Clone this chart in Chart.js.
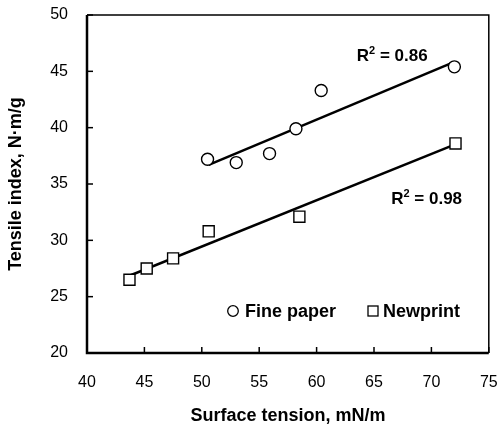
<!DOCTYPE html>
<html lang="en">
<head>
    <meta charset="UTF-8">
    <title>Tensile index vs surface tension</title>
    <script src="https://cdn.jsdelivr.net/npm/chart.js"></script>
    <style>
        html, body { margin: 0; padding: 0; background: #fff; }
        #wrap { width: 498px; height: 433px; }
    </style>
</head>
<body>
    <div id="wrap"><canvas id="tensileChart" width="498" height="433"></canvas></div>
    <script>
        // Dados
        const fineX = [50.5, 53.0, 55.9, 58.2, 60.4, 72.0];
        const fineY = [37.2, 36.9, 37.7, 39.9, 43.3, 45.4];
        const newsX = [43.7, 45.2, 47.5, 50.6, 58.5, 72.1];
        const newsY = [26.5, 27.5, 28.4, 30.8, 32.1, 38.6];

        // Linhas de tendência (extremos)
        const fineTrendX = [50.6, 71.9];
        const fineTrendY = [36.7, 45.8];
        const newsTrendX = [43.8, 71.8];
        const newsTrendY = [26.9, 38.4];

        const xTicks = [40, 45, 50, 55, 60, 65, 70, 75];
        const yTicks = [20, 25, 30, 35, 40, 45, 50];

        const labels = ["Fine paper", "Newprint"];
        const r2Labels = ["0.86", "0.98"];

        const toPoints = (xs, ys) => xs.map((x, i) => ({ x: x, y: ys[i] }));
        const FONT = "'Liberation Sans', Arial, sans-serif";

        // Moldura, ticks para dentro, legenda e R²
        const extras = {
            id: "extras",
            afterDraw(chart) {
                const ctx = chart.ctx;
                const a = chart.chartArea;
                const xs = chart.scales.x, ys = chart.scales.y;
                ctx.save();
                ctx.strokeStyle = "#000";
                ctx.lineWidth = 1.5;
                ctx.beginPath();
                ctx.moveTo(a.left, a.top); ctx.lineTo(a.right, a.top); ctx.lineTo(a.right, a.bottom);
                ctx.stroke();
                ctx.lineWidth = 2.5;
                ctx.beginPath();
                ctx.moveTo(a.left, a.top); ctx.lineTo(a.left, a.bottom); ctx.lineTo(a.right, a.bottom);
                ctx.stroke();
                ctx.lineWidth = 1.5;
                xTicks.forEach(v => {
                    const px = xs.getPixelForValue(v);
                    ctx.beginPath(); ctx.moveTo(px, a.bottom); ctx.lineTo(px, a.bottom - 6); ctx.stroke();
                });
                yTicks.forEach(v => {
                    const py = ys.getPixelForValue(v);
                    ctx.beginPath(); ctx.moveTo(a.left, py); ctx.lineTo(a.left + 6, py); ctx.stroke();
                });

                // legenda
                ctx.fillStyle = "#000";
                ctx.font = "bold 18px " + FONT;
                ctx.textBaseline = "middle";
                ctx.textAlign = "left";
                const ly = a.top + 296;
                ctx.lineWidth = 1.3;
                ctx.beginPath(); ctx.arc(a.left + 146, ly, 5.3, 0, Math.PI * 2); ctx.stroke();
                ctx.fillText(labels[0], a.left + 158, ly + 1);
                ctx.strokeRect(a.left + 281, ly - 5, 10, 10);
                ctx.fillText(labels[1], a.left + 296, ly + 1);

                // R²
                const r2 = (txt, vx, vy) => {
                    let px = xs.getPixelForValue(vx);
                    const py = ys.getPixelForValue(vy);
                    ctx.font = "bold 17px " + FONT;
                    ctx.fillText("R", px, py);
                    px += ctx.measureText("R").width;
                    ctx.font = "bold 11px " + FONT;
                    ctx.fillText("2", px, py - 5);
                    px += ctx.measureText("2").width;
                    ctx.font = "bold 17px " + FONT;
                    ctx.fillText(" = " + txt, px, py);
                };
                r2(r2Labels[0], 63.5, 46.35);
                r2(r2Labels[1], 66.5, 33.66);
                ctx.restore();
            }
        };

        const ctx = document.getElementById("tensileChart").getContext("2d");
        new Chart(ctx, {
            type: "scatter",
            data: {
                datasets: [
                    {
                        label: labels[0],
                        data: toPoints(fineX, fineY),
                        pointStyle: "circle",
                        pointRadius: 6,
                        borderColor: "#000",
                        backgroundColor: "#fff",
                        borderWidth: 1.4
                    },
                    {
                        label: labels[1],
                        data: toPoints(newsX, newsY),
                        pointStyle: "rect",
                        pointRadius: 7.8,
                        borderColor: "#000",
                        backgroundColor: "#fff",
                        borderWidth: 1.4
                    },
                    {
                        data: toPoints(fineTrendX, fineTrendY),
                        showLine: true,
                        pointRadius: 0,
                        borderColor: "#000",
                        borderWidth: 2.5,
                        order: 5
                    },
                    {
                        data: toPoints(newsTrendX, newsTrendY),
                        showLine: true,
                        pointRadius: 0,
                        borderColor: "#000",
                        borderWidth: 2.5,
                        order: 5
                    }
                ]
            },
            options: {
                responsive: false,
                animation: false,
                layout: { padding: { top: 15, right: 7, left: 0, bottom: 0 } },
                plugins: { legend: { display: false }, tooltip: { enabled: false } },
                scales: {
                    x: {
                        type: "linear",
                        min: 40, max: 75,
                        afterBuildTicks: s => { s.ticks = xTicks.map(v => ({ value: v })); },
                        afterFit: s => { s.height = 80; s.paddingLeft = 0; s.paddingRight = 0; },
                        grid: { display: false, drawTicks: false },
                        border: { display: false },
                        ticks: { color: "#000", font: { family: FONT, size: 16 }, padding: 20, maxRotation: 0 },
                        title: {
                            display: true,
                            text: "Surface tension, mN/m",
                            color: "#000",
                            font: { family: FONT, size: 18, weight: "bold" },
                            padding: { bottom: 6, top: 0 }
                        }
                    },
                    y: {
                        type: "linear",
                        min: 20, max: 50,
                        afterBuildTicks: s => { s.ticks = yTicks.map(v => ({ value: v })); },
                        afterFit: s => { s.width = 87; s.paddingTop = 0; s.paddingBottom = 0; },
                        grid: { display: false, drawTicks: false },
                        border: { display: false },
                        ticks: { color: "#000", font: { family: FONT, size: 16 }, padding: 19 },
                        title: {
                            display: true,
                            text: "Tensile index, N·m/g",
                            color: "#000",
                            font: { family: FONT, size: 18, weight: "bold" },
                            padding: { top: 5, bottom: 0 }
                        }
                    }
                }
            },
            plugins: [extras]
        });
    </script>
</body>
</html>
